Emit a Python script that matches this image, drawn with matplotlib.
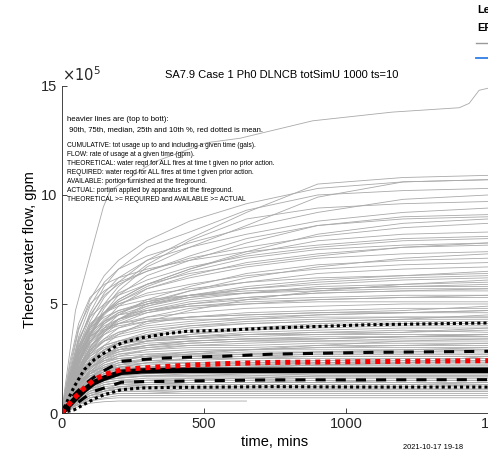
import matplotlib
matplotlib.use("Agg")
import matplotlib.pyplot as plt
import numpy as np

plt.rcParams["font.family"] = ["Liberation Sans", "DejaVu Sans"]

# flow values are in units of 1e5 gpm
T = [0, 30, 60, 100, 150, 200, 300, 450, 650, 900, 1200, 1500]

# individual simulation runs (a subset)
runs = [
    [0, 2.0, 3.8, 5.2, 6.3, 7.0, 7.9, 8.8, 9.6, 10.3, 10.6, 10.7],
    [0, 1.6, 3.2, 4.6, 5.8, 6.6, 7.6, 8.3, 9.3, 10.0, 10.2, 10.3],
    [0, 1.8, 3.5, 4.9, 6.0, 6.6, 7.2, 7.8, 8.5, 9.2, 9.8, 10.0],
    [0, 1.2, 2.6, 3.9, 5.0, 5.8, 6.8, 7.9, 8.9, 9.4, 9.6, 9.7],
    [0, 1.5, 3.0, 4.4, 5.5, 6.2, 7.0, 7.6, 8.2, 8.8, 9.2, 9.4],
    [0, 1.0, 2.2, 3.5, 4.6, 5.4, 6.3, 7.0, 7.8, 8.6, 8.9, 9.0],
    [0, 1.7, 3.3, 4.5, 5.4, 5.9, 6.5, 7.1, 7.6, 8.1, 8.5, 8.7],
    [0, 1.1, 2.4, 3.6, 4.6, 5.2, 5.9, 6.6, 7.3, 7.9, 8.2, 8.3],
    [0, 1.4, 2.8, 4.0, 4.9, 5.5, 6.1, 6.7, 7.2, 7.6, 7.9, 8.0],
    [0, 0.9, 2.0, 3.2, 4.2, 4.9, 5.7, 6.3, 6.9, 7.3, 7.6, 7.7],
    [0, 1.3, 2.7, 3.8, 4.6, 5.1, 5.7, 6.2, 6.7, 7.1, 7.3, 7.4],
    [0, 0.8, 1.9, 3.0, 3.9, 4.5, 5.2, 5.8, 6.4, 6.8, 7.0, 7.1],
    [0, 1.5, 2.9, 3.9, 4.6, 5.0, 5.5, 5.9, 6.3, 6.6, 6.8, 6.9],
    [0, 1.0, 2.2, 3.3, 4.1, 4.6, 5.1, 5.6, 6.0, 6.4, 6.6, 6.7],
    [0, 0.7, 1.7, 2.8, 3.7, 4.3, 4.9, 5.4, 5.8, 6.1, 6.3, 6.4],
    [0, 1.2, 2.5, 3.5, 4.2, 4.6, 5.0, 5.4, 5.7, 5.9, 6.1, 6.2],
    [0, 0.9, 2.0, 3.0, 3.8, 4.3, 4.8, 5.2, 5.5, 5.8, 5.9, 6.0],
    [0, 1.6, 3.0, 3.9, 4.4, 4.7, 5.0, 5.3, 5.5, 5.7, 5.8, 5.8],
    [0, 0.8, 1.8, 2.8, 3.6, 4.1, 4.6, 5.0, 5.3, 5.5, 5.6, 5.6],
    [0, 1.1, 2.3, 3.3, 3.9, 4.3, 4.7, 5.0, 5.2, 5.3, 5.4, 5.4],
    [0, 2.4, 4.1, 5.3, 5.9, 6.2, 6.6, 7.0, 7.4, 7.7, 8.0, 8.1],
    [0, 2.2, 3.9, 5.0, 5.6, 6.0, 6.5, 7.2, 8.0, 8.6, 9.0, 9.1],
    [0, 1.3, 2.8, 4.2, 5.3, 6.0, 7.0, 8.0, 9.2, 10.5, 10.8, 10.9],
    [0, 1.0, 2.3, 3.6, 4.8, 5.6, 6.7, 7.6, 8.6, 9.9, 10.6, 10.7],
    [0, 1.3, 2.4, 3.2, 3.8, 4.1, 4.4, 4.6, 4.8, 4.9, 5.0, 5.0],
    [0, 0.9, 1.8, 2.7, 3.3, 3.7, 4.1, 4.4, 4.6, 4.7, 4.8, 4.8],
    [0, 1.1, 2.1, 2.9, 3.4, 3.7, 4.0, 4.2, 4.4, 4.5, 4.6, 4.6],
    [0, 0.7, 1.5, 2.3, 2.9, 3.3, 3.7, 4.0, 4.2, 4.3, 4.4, 4.4],
    [0, 1.2, 2.2, 2.9, 3.3, 3.5, 3.8, 4.0, 4.1, 4.2, 4.3, 4.3],
    [0, 0.8, 1.6, 2.4, 2.9, 3.2, 3.5, 3.8, 3.9, 4.0, 4.1, 4.1],
    [0, 1.0, 1.9, 2.6, 3.1, 3.3, 3.6, 3.7, 3.8, 3.9, 4.0, 4.0],
    [0, 0.6, 1.3, 2.0, 2.6, 3.0, 3.3, 3.5, 3.7, 3.8, 3.9, 3.9],
    [0, 0.9, 1.8, 2.5, 2.9, 3.2, 3.4, 3.5, 3.6, 3.7, 3.7, 3.8],
    [0, 1.1, 2.0, 2.6, 3.0, 3.2, 3.3, 3.4, 3.5, 3.6, 3.6, 3.6],
    [0, 0.7, 1.4, 2.1, 2.6, 2.9, 3.1, 3.3, 3.4, 3.5, 3.5, 3.5],
    [0, 0.8, 1.6, 2.3, 2.7, 2.9, 3.1, 3.2, 3.3, 3.3, 3.4, 3.4],
    [0, 0.5, 1.1, 1.8, 2.3, 2.6, 2.9, 3.1, 3.2, 3.3, 3.3, 3.3],
    [0, 1.0, 1.8, 2.4, 2.7, 2.9, 3.0, 3.1, 3.1, 3.2, 3.2, 3.2],
    [0, 0.6, 1.3, 1.9, 2.4, 2.7, 2.9, 3.0, 3.0, 3.1, 3.1, 3.1],
    [0, 0.8, 1.5, 2.1, 2.5, 2.7, 2.8, 2.9, 2.9, 3.0, 3.0, 3.0],
    [0, 0.5, 1.0, 1.6, 2.1, 2.4, 2.7, 2.8, 2.9, 2.9, 2.9, 2.9],
    [0, 0.9, 1.6, 2.1, 2.4, 2.6, 2.7, 2.7, 2.8, 2.8, 2.8, 2.8],
    [0, 0.6, 1.2, 1.8, 2.2, 2.4, 2.6, 2.6, 2.7, 2.7, 2.7, 2.7],
    [0, 0.7, 1.4, 1.9, 2.3, 2.5, 2.6, 2.6, 2.6, 2.6, 2.6, 2.6],
    [0, 1.4, 2.6, 3.5, 4.0, 4.3, 4.6, 4.9, 5.1, 5.2, 5.3, 5.3],
    [0, 1.5, 2.8, 3.7, 4.2, 4.5, 4.7, 4.9, 5.0, 5.1, 5.1, 5.1],
    [0, 0.7, 1.3, 1.8, 2.1, 2.3, 2.4, 2.4, 2.5, 2.5, 2.5, 2.5],
    [0, 0.5, 1.0, 1.5, 1.9, 2.1, 2.3, 2.3, 2.4, 2.4, 2.4, 2.4],
    [0, 0.8, 1.4, 1.9, 2.1, 2.2, 2.3, 2.3, 2.3, 2.3, 2.3, 2.3],
    [0, 0.4, 0.9, 1.4, 1.8, 2.0, 2.1, 2.2, 2.2, 2.2, 2.2, 2.2],
    [0, 0.6, 1.1, 1.6, 1.9, 2.0, 2.1, 2.1, 2.1, 2.1, 2.1, 2.1],
    [0, 0.7, 1.2, 1.6, 1.8, 1.9, 2.0, 2.0, 2.0, 2.0, 2.0, 2.0],
    [0, 0.4, 0.8, 1.3, 1.6, 1.8, 1.9, 1.9, 1.9, 1.9, 1.9, 1.9],
    [0, 0.5, 1.0, 1.4, 1.6, 1.7, 1.8, 1.8, 1.8, 1.8, 1.8, 1.8],
    [0, 0.6, 1.1, 1.4, 1.6, 1.7, 1.7, 1.7, 1.7, 1.7, 1.7, 1.7],
    [0, 0.3, 0.7, 1.1, 1.4, 1.5, 1.6, 1.6, 1.6, 1.6, 1.6, 1.6],
    [0, 0.5, 0.9, 1.2, 1.4, 1.5, 1.5, 1.5, 1.5, 1.5, 1.5, 1.5],
    [0, 0.4, 0.8, 1.1, 1.3, 1.4, 1.4, 1.4, 1.4, 1.4, 1.4, 1.4],
    [0, 0.3, 0.6, 1.0, 1.2, 1.3, 1.3, 1.3, 1.3, 1.3, 1.3, 1.3],
    [0, 0.4, 0.7, 1.0, 1.1, 1.2, 1.2, 1.2, 1.2, 1.2, 1.2, 1.2],
    [0, 0.2, 0.5, 0.8, 1.0, 1.1, 1.1, 1.1, 1.1, 1.1, 1.1, 1.1],
    [0, 0.3, 0.6, 0.8, 0.9, 1.0, 1.0, 1.0, 1.0, 1.0, 1.0, 1.0],
    [0, 0.2, 0.4, 0.7, 0.8, 0.9, 0.9, 0.9, 0.9, 0.9, 0.9, 0.9],
    [0, 0.2, 0.4, 0.6, 0.7, 0.8, 0.8, 0.8, 0.8, 0.8, 0.8, 0.8],
    [0, 0.6, 1.1, 1.5, 1.8, 1.9, 2.0, 2.1, 2.1, 2.2, 2.2, 2.2],
    [0, 0.5, 1.0, 1.3, 1.5, 1.6, 1.7, 1.7, 1.8, 1.8, 1.8, 1.8],
    [0, 0.8, 1.3, 1.7, 1.9, 2.0, 2.1, 2.1, 2.2, 2.3, 2.4, 2.4],
    [0, 0.4, 0.9, 1.3, 1.6, 1.8, 1.9, 2.0, 2.0, 2.1, 2.1, 2.1],
    [0, 0.3, 0.6, 0.9, 1.1, 1.3, 1.4, 1.5, 1.6, 1.7, 1.7, 1.7],
    [0, 0.2, 0.5, 0.8, 1.0, 1.2, 1.3, 1.4, 1.4, 1.5, 1.5, 1.5],
    [0, 0.15, 0.3, 0.45, 0.52, 0.55, 0.55, 0.55, 0.55, None, None, None],
    [0, 0.2, 0.4, 0.55, 0.65, 0.7, 0.7, 0.7, 0.7, 0.7, 0.7, 0.7],
    [0, 1.0, 2.0, 2.8, 3.3, 3.6, 3.9, 4.1, 4.3, 4.5, 4.6, 4.7],
    [0, 0.6, 1.4, 2.2, 2.8, 3.2, 3.6, 3.9, 4.1, 4.2, 4.3, 4.5],
    [0, 1.2, 2.3, 3.1, 3.6, 3.9, 4.2, 4.4, 4.5, 4.6, 4.7, 4.9],
    [0, 0.9, 1.7, 2.4, 2.9, 3.1, 3.4, 3.6, 3.9, 4.1, 4.2, 4.2],
    [0, 0.7, 1.5, 2.2, 2.7, 3.0, 3.3, 3.4, 3.6, 3.7, 3.8, 3.7],
    [0, 1.3, 2.5, 3.3, 3.8, 4.0, 4.2, 4.3, 4.3, 4.4, 4.4, 4.4],
    [0, 0.5, 1.2, 1.9, 2.5, 2.9, 3.3, 3.6, 3.8, 4.0, 4.1, 4.1],
    [0, 0.8, 1.6, 2.2, 2.6, 2.8, 3.0, 3.2, 3.3, 3.4, 3.5, 3.6],
    [0, 1.1, 2.0, 2.7, 3.1, 3.3, 3.5, 3.5, 3.6, 3.6, 3.7, 3.9],
    [0, 0.6, 1.3, 2.0, 2.5, 2.8, 3.1, 3.3, 3.4, 3.4, 3.5, 3.5],
    [0, 1.4, 2.7, 3.6, 4.3, 4.7, 5.1, 5.4, 5.6, 5.7, 5.8, 5.9],
    [0, 1.0, 2.1, 3.0, 3.7, 4.2, 4.7, 5.1, 5.3, 5.5, 5.6, 5.7],
    [0, 1.6, 3.0, 4.0, 4.6, 5.0, 5.4, 5.7, 6.0, 6.2, 6.3, 6.5],
    [0, 0.8, 1.8, 2.7, 3.4, 3.9, 4.4, 4.8, 5.0, 5.2, 5.3, 5.4],
    [0, 1.2, 2.4, 3.4, 4.1, 4.5, 4.9, 5.3, 5.7, 6.0, 6.2, 6.3],
    [0, 1.9, 3.4, 4.4, 5.0, 5.4, 5.9, 6.4, 6.8, 7.2, 7.6, 7.8],
    [0, 1.1, 2.4, 3.6, 4.5, 5.1, 5.8, 6.5, 7.1, 7.5, 7.7, 7.8],
    [0, 1.3, 2.6, 3.7, 4.6, 5.2, 5.9, 6.6, 7.4, 8.2, 8.7, 8.9],
    [0, 0.9, 1.9, 2.9, 3.7, 4.3, 5.0, 5.6, 6.2, 6.7, 7.1, 7.3],
    [0, 0.7, 1.5, 2.4, 3.1, 3.6, 4.2, 4.7, 5.2, 5.6, 5.9, 6.1],
    [0, 0.7, 1.3, 1.8, 2.2, 2.4, 2.6, 2.8, 2.9, 3.0, 3.1, 3.2],
    [0, 0.5, 1.1, 1.6, 2.0, 2.3, 2.5, 2.6, 2.7, 2.8, 2.9, 3.0],
    [0, 0.9, 1.6, 2.1, 2.4, 2.5, 2.6, 2.7, 2.7, 2.8, 2.8, 2.9],
    [0, 0.4, 0.9, 1.4, 1.8, 2.1, 2.3, 2.5, 2.6, 2.7, 2.7, 2.7],
    [0, 0.6, 1.2, 1.7, 2.0, 2.2, 2.4, 2.5, 2.5, 2.6, 2.6, 2.6],
    [0, 0.7, 1.3, 1.7, 2.0, 2.1, 2.2, 2.3, 2.3, 2.4, 2.5, 2.5],
    [0, 0.5, 1.0, 1.5, 1.8, 2.0, 2.1, 2.2, 2.3, 2.3, 2.3, 2.4],
    [0, 0.8, 1.4, 1.8, 2.0, 2.1, 2.1, 2.2, 2.2, 2.2, 2.3, 2.3],
    [0, 0.3, 0.7, 1.2, 1.5, 1.7, 1.9, 2.0, 2.0, 2.0, 2.1, 2.1],
    [0, 0.6, 1.0, 1.4, 1.7, 1.8, 1.9, 1.9, 2.0, 2.0, 2.0, 2.0],
    [0, 0.4, 0.8, 1.2, 1.5, 1.6, 1.7, 1.8, 1.8, 1.9, 1.9, 1.9],
    [0, 0.5, 0.9, 1.3, 1.5, 1.6, 1.7, 1.7, 1.7, 1.8, 1.8, 1.8],
    [0, 0.3, 0.6, 1.0, 1.3, 1.4, 1.5, 1.6, 1.6, 1.7, 1.7, 1.7],
    [0, 0.4, 0.8, 1.1, 1.3, 1.4, 1.5, 1.5, 1.5, 1.6, 1.6, 1.6],
    [0, 0.3, 0.6, 0.9, 1.1, 1.2, 1.3, 1.4, 1.4, 1.4, 1.5, 1.5],
    [0, 0.2, 0.5, 0.8, 1.0, 1.1, 1.2, 1.3, 1.3, 1.3, 1.3, 1.4],
    [0, 0.3, 0.6, 0.9, 1.0, 1.1, 1.2, 1.2, 1.2, 1.2, 1.2, 1.3],
    [0, 0.2, 0.4, 0.7, 0.9, 1.0, 1.0, 1.1, 1.1, 1.1, 1.1, 1.1],
    [0, 0.3, 0.5, 0.7, 0.8, 0.9, 0.9, 1.0, 1.0, 1.0, 1.0, 1.0],
    [0, 0.6, 1.1, 1.5, 1.7, 1.8, 1.9, 2.0, 2.1, 2.2, 2.3, 2.6],
    [0, 0.5, 1.0, 1.5, 1.9, 2.2, 2.5, 2.7, 2.9, 3.1, 3.3, 3.4],
    [0, 0.9, 1.7, 2.3, 2.7, 3.0, 3.2, 3.3, 3.4, 3.4, 3.5, 3.6],
    [0, 1.5, 2.7, 3.5, 3.9, 4.1, 4.3, 4.4, 4.5, 4.6, 4.6, 4.7],
    [0, 1.7, 3.1, 4.1, 4.6, 4.9, 5.2, 5.4, 5.5, 5.6, 5.7, 5.7],
]

# the extreme run (steepest rise, highest plateau)
t_max = [0, 49, 147, 171, 322, 511, 627, 882, 1162, 1397, 1432, 1467, 1500]
v_max = [0, 4.7, 9.45, 10.2, 11.5, 12.4, 12.6, 13.4, 13.8, 14.0, 14.2, 14.8, 14.9]

# percentile and mean curves
t_stat = [0, 45, 80, 115, 150, 210, 280, 360, 440, 560, 740, 1080, 1500]
p90 = [0, 1.22, 1.99, 2.45, 2.75, 3.21, 3.45, 3.62, 3.75, 3.79, 3.90, 4.05, 4.13]
p75 = [0, 0.85, 1.30, 1.65, 1.95, 2.37, 2.45, 2.52, 2.56, 2.60, 2.70, 2.78, 2.83]
mean = [0, 0.69, 1.15, 1.53, 1.76, 1.99, 2.06, 2.13, 2.19, 2.26, 2.32, 2.36, 2.40]
p50 = [0, 0.61, 1.05, 1.40, 1.60, 1.87, 1.93, 1.95, 1.96, 1.96, 1.96, 1.96, 1.96]
p25 = [0, 0.35, 0.70, 1.00, 1.15, 1.41, 1.44, 1.45, 1.47, 1.49, 1.52, 1.52, 1.53]
p10 = [0, 0.15, 0.40, 0.65, 0.84, 1.07, 1.15, 1.17, 1.18, 1.19, 1.21, 1.19, 1.19]

fig = plt.figure(figsize=(4.89, 4.62), dpi=100)
ax = fig.add_axes([0.1258, 0.106, 0.8732, 0.708])

for r in runs:
    v = np.array([np.nan if x is None else x for x in r], dtype=float)
    ax.plot(T, v, color="#a9a9a9", lw=0.6)
ax.plot(t_max, v_max, color="#a9a9a9", lw=0.6)

ax.plot(t_stat, p90, color="black", lw=2.2, dashes=(1, 1))
ax.plot(t_stat, p10, color="black", lw=2.2, dashes=(1, 1))
ax.plot(t_stat, p75, color="black", lw=2.2, dashes=(3.3, 3.3))
ax.plot(t_stat, p25, color="black", lw=2.2, dashes=(3.3, 3.3))
ax.plot(t_stat, p50, color="black", lw=4)
ax.plot(t_stat, mean, color="red", lw=3.6, dashes=(1, 1))

ax.set_xlim(0, 1500)
ax.set_ylim(0, 15)
ax.set_xticks([0, 500, 1000, 1500])
ax.set_yticks([0, 5, 10, 15])
ax.set_xticklabels(["0", "500", "1000", "15"])
for s in ["top", "right"]:
    ax.spines[s].set_visible(False)
for s in ["left", "bottom"]:
    ax.spines[s].set_color("#262626")
    ax.spines[s].set_linewidth(0.6)
ax.tick_params(direction="in", length=3.5, width=0.6, labelsize=10.5, colors="#262626", pad=3)

ax.text(0.0, 1.005, r"$\times10^5$", transform=ax.transAxes, fontsize=10.5, color="#262626", va="bottom", ha="left")
ax.set_title("SA7.9 Case 1 Ph0 DLNCB totSimU 1000 ts=10", fontsize=8, pad=6, x=0.515)
ax.set_xlabel("time, mins", fontsize=10.5, labelpad=3)
ax.set_ylabel("Theoret water flow, gpm", fontsize=10.5, labelpad=3)

ax.text(19, 13.45, "heavier lines are (top to bott):", fontsize=5.6, va="center", ha="left")
ax.text(19, 13.0, " 90th, 75th, median, 25th and 10th %, red dotted is mean.", fontsize=5.5, va="center", ha="left")
notes = [
    "CUMULATIVE: tot usage up to and including a given time (gals).",
    "FLOW: rate of usage at a given time (gpm).",
    "THEORETICAL: water reqd for ALL fires at time t given no prior action.",
    "REQUIRED: water reqd for ALL fires at time t given prior action.",
    "AVAILABLE: portion furnished at the fireground.",
    "ACTUAL: portion applied by apparatus at the fireground.",
    "THEORETICAL >= REQUIRED and AVAILABLE >= ACTUAL",
]
for i, s in enumerate(notes):
    ax.text(19, 12.25 - i * 0.41, s, fontsize=4.8, va="center", ha="left")

fig.text(0.824, 0.032, "2021-10-17 19-18", fontsize=5.4, va="center", ha="left")

# clipped legend remnants at top right
fig.text(0.975, 0.978, "Le", fontsize=8, fontweight="bold", va="center", ha="left")
fig.text(0.975, 0.94, "EF", fontsize=8, fontweight="bold", va="center", ha="left")
fig.add_artist(plt.Line2D([0.973, 1.0], [0.907, 0.907], color="#9a9a9a", lw=1.0))
fig.add_artist(plt.Line2D([0.973, 1.0], [0.874, 0.874], color="#2f7ee6", lw=1.3))

fig.savefig("out.png", dpi=100)
